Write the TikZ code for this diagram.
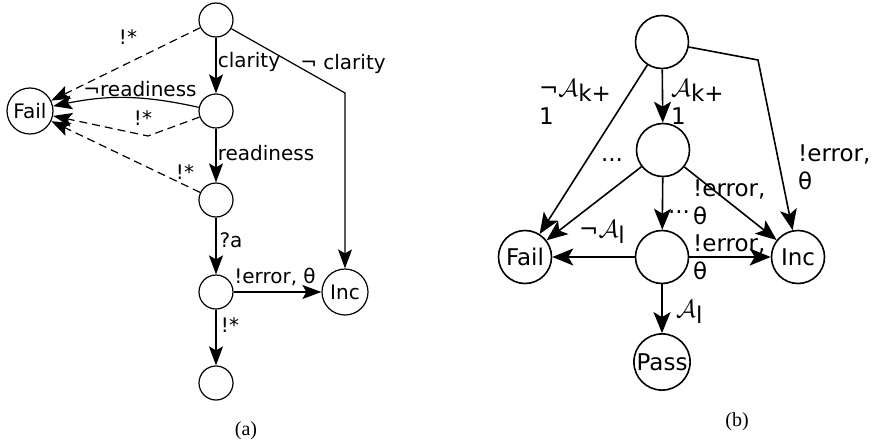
\documentclass[tikz,border=0pt]{standalone}
\usepackage{fontspec}
\setmainfont{DejaVu Sans}
\newfontfamily\capfont{Liberation Serif}
\usetikzlibrary{arrows.meta}

\tikzset{
  sa/.style = {circle, draw, line width=1.2pt, inner sep=0pt, minimum size=34pt},
  sabig/.style = {sa, minimum size=46pt},
  sb/.style = {circle, draw, line width=1.6pt, inner sep=0pt, minimum size=53pt},
  arra/.style = {line width=1.2pt, -{Stealth[length=19pt,width=14pt,inset=4pt]}},
  arrb/.style = {line width=1.6pt, -{Stealth[length=21pt,width=17pt,inset=5pt]}},
  dsh/.style = {arra, dash pattern=on 8pt off 5pt},
  txta/.style = {inner sep=1pt, font=\fontsize{20}{23}\selectfont},
  txtb/.style = {inner sep=1pt, align=left, font=\fontsize{23}{28}\selectfont},
  capt/.style = {font=\capfont\fontsize{20}{22}\selectfont}
}

\begin{document}
\begin{tikzpicture}[x=1pt, y=-1pt]
\useasboundingbox (0,0) rectangle (872,447);

%% (a)
\node [sa] (a0) at (216,20) {};
\node [sa] (a1) at (216,111) {};
\node [sa] (a2) at (216,200) {};
\node [sa] (a3) at (216,292) {};
\node [sa] (a4) at (216,383) {};
\node [sabig, txta] (afail) at (30,111) {Fail};
\node [sabig, txta] (ainc) at (345,292) {Inc};
\coordinate (abend) at (345,93);
\coordinate (adip) at (148,136);

\draw [arra] (a0) -- (a1);
\draw [arra] (a0) -- (abend) -- (ainc);
\draw [dsh] (a0) -- (afail);
\draw [arra] (a1) to [bend right=12] (afail);
\draw [dsh] (a1) -- (adip) -- (afail);
\draw [arra] (a1) -- (a2);
\draw [dsh] (a2) -- (afail);
\draw [arra] (a2) -- (a3);
\draw [arra] (a3) -- (ainc);
\draw [arra] (a3) -- (a4);

\node [txta] (la1) at (249,62) {clarity};
\node [txta] (la2) at (343,64) {¬ clarity};
\node [txta] (la3) at (128,37) {!*};
\node [txta] (la4) at (140,89) {¬readiness};
\node [txta] (la5) at (143,118) {!*};
\node [txta] (la6) at (266,153) {readiness};
\node [txta] (la7) at (185,172) {!*};
\node [txta] (la8) at (231,240) {?a};
\node [txta] (la9) at (275,277) {!error, θ};
\node [txta] (la10) at (230,325) {!*};
\node [capt] (capa) at (246,431) {(a)};

%% (b)
\node [sb] (b0) at (662,42) {};
\node [sb] (b1) at (663,150) {};
\node [sb] (b2) at (662,257) {};
\node [sb, txtb, align=center] (bfail) at (525,257) {Fail};
\node [sb, txtb, align=center] (binc) at (798,257) {Inc};
\node [sb, txtb, align=center] (bpass) at (662,362) {Pass};
\coordinate (bbend) at (758,60);

\draw [arrb] (b0) -- (bfail);
\draw [arrb] (b0) -- (b1);
\draw [arrb] (b0) -- (bbend) -- (binc);
\draw [arrb] (b1) -- (bfail);
\draw [arrb] (b1) -- (b2);
\draw [arrb] (b1) -- (binc);
\draw [arrb] (b2) -- (bfail);
\draw [arrb] (b2) -- (binc);
\draw [arrb] (b2) -- (bpass);

\node [txtb, anchor=west] (lb1) at (538,102) {¬$\mathcal{A}$\raisebox{-0.4ex}{k+}\\1};
\node [txtb, anchor=west] (lb2) at (670,102) {$\mathcal{A}$\raisebox{-0.4ex}{k+}\\1};
\node [txtb, anchor=west] (lb3) at (797,167) {!error,\\θ};
\node [txtb] (lb4) at (612,160) {...};
\node [txtb, anchor=west] (lb5) at (692,202) {!error,\\θ};
\node [txtb] (lb6) at (679,212) {...};
\node [txtb] (lb7) at (602,232) {¬$\mathcal{A}$\raisebox{-0.4ex}{l}};
\node [txtb, anchor=west] (lb8) at (692,257) {!error,\\θ};
\node [txtb, anchor=west] (lb9) at (675,312) {$\mathcal{A}$\raisebox{-0.4ex}{l}};
\node [capt] (capb) at (737,422) {(b)};
\end{tikzpicture}
\end{document}
